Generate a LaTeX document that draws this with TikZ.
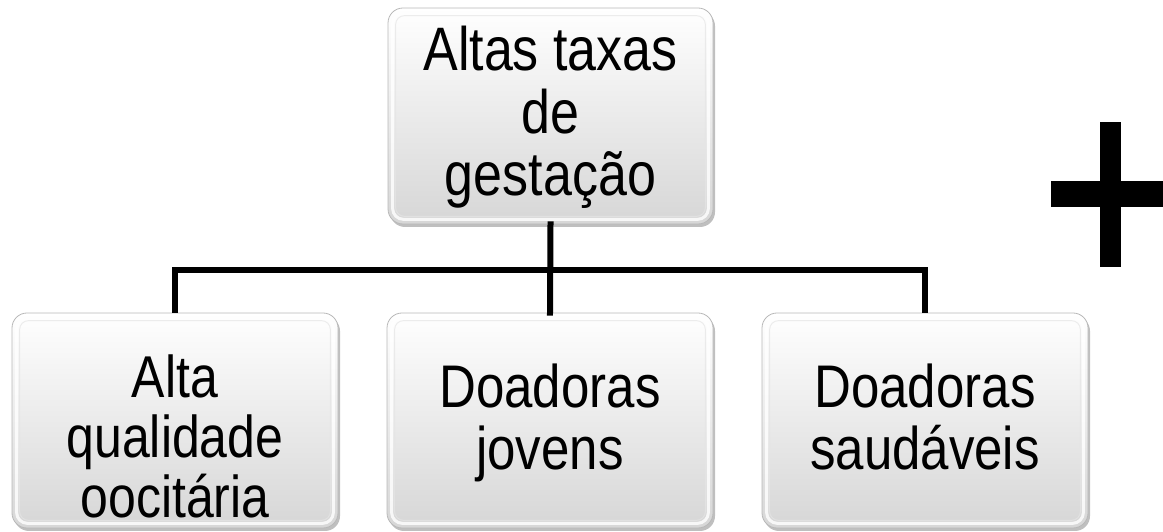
\documentclass[tikz,border=0pt]{standalone}
\usepackage{fontspec}
\setmainfont{Liberation Sans}
\usetikzlibrary{shadows}
\newcommand{\stretchtxt}[3]{\scalebox{1}[1.18]{\fontsize{#1}{#2}\selectfont\begin{tabular}{@{}c@{}}#3\end{tabular}}}
\tikzset{
  box/.style={rounded corners=15pt, minimum width=326pt, minimum height=215pt,
    top color=white, bottom color=black!16, draw=black!28, line width=0.8pt,
    drop shadow={shadow xshift=2pt, shadow yshift=-3pt, opacity=0.25, fill=black},
    inner sep=0pt},
  txt/.style={align=center, inner sep=0pt},
  conn/.style={line width=6pt, line join=miter, line cap=rect},
  plusbar/.style={fill=black, draw=none}
}
\begin{document}
\begin{tikzpicture}[x=1pt,y=1pt]
\useasboundingbox (0,0) rectangle (1163,532);
% boxes
\node[box, minimum width=325pt, minimum height=216pt] (top) at (550.5,416) {};
\node[box] (left) at (175,111.5) {};
\node[box] (mid) at (550,111.5) {};
\node[box] (right) at (925,111.5) {};
% inner bevel highlights
\foreach \b in {top,left,mid,right}{
  \draw[white, line width=3pt, opacity=0.8, rounded corners=11pt]
    ([shift={(5pt,5pt)}]\b.south west) rectangle ([shift={(-5pt,-5pt)}]\b.north east);
  \draw[black!10, line width=1pt, opacity=0.7, rounded corners=9pt]
    ([shift={(8pt,8pt)}]\b.south west) rectangle ([shift={(-8pt,-8pt)}]\b.north east);
}
% texts
\node[txt] (ttop) at ([yshift=-4pt]top.center) {\stretchtxt{52}{52}{Altas taxas\\de\\gesta\c{c}\~ao}};
\node[txt] (tleft) at ([yshift=-24pt]left.center) {\stretchtxt{50}{47}{Alta\\qualidade\\oocit\'aria}};
\node[txt] (tmid) at ([yshift=-5pt]mid.center) {\stretchtxt{51}{51}{Doadoras\\jovens}};
\node[txt] (tright) at ([yshift=-5pt]right.center) {\stretchtxt{51}{51}{Doadoras\\saud\'aveis}};
% connectors
\coordinate (j) at (550.5,262);
\draw[conn] (top.south) -- (mid.north);
\draw[conn, line cap=butt] (left.north) -- (left.north |- j) -- (right.north |- j) -- (right.north);
% plus sign
\fill[plusbar] (1100,265) rectangle (1121,410);
\fill[plusbar] (1051,325) rectangle (1163,351);
\end{tikzpicture}
\end{document}
